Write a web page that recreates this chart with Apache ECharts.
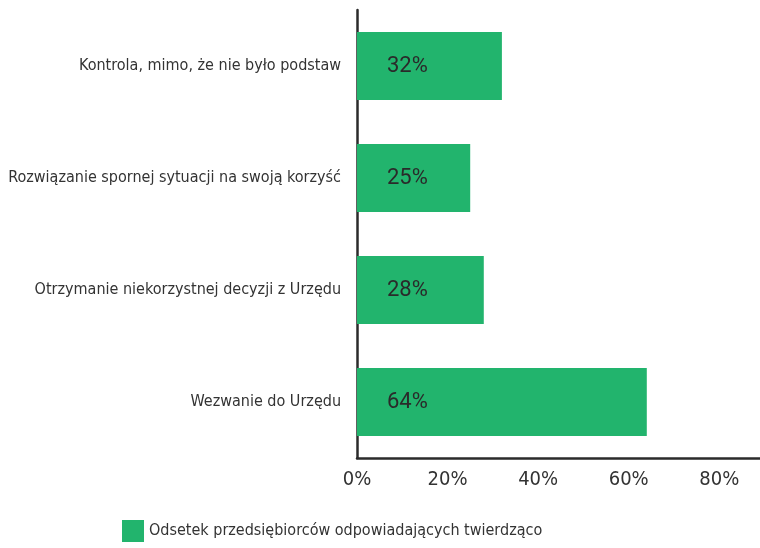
<!DOCTYPE html>
<html>
<head>
<meta charset="utf-8">
<script src="https://cdn.jsdelivr.net/npm/echarts@6/dist/echarts.min.js"></script>
<style>
  html, body { margin: 0; padding: 0; background: #fff; }
  #chart { width: 760px; height: 548px; }
</style>
</head>
<body>
<div id="chart"></div>
<script>
// dane z wykresu (od góry do dołu)
var categories = [
  'Kontrola, mimo, że nie było podstaw',
  'Rozwiązanie spornej sytuacji na swoją korzyść',
  'Otrzymanie niekorzystnej decyzji z Urzędu',
  'Wezwanie do Urzędu'
];
var values = [32, 25, 28, 64];
var seriesName = 'Odsetek przedsiębiorców odpowiadających twierdząco';
var xTicks = [0, 20, 40, 60, 80];

var FONT = '"DejaVu Sans Condensed", sans-serif';
var chart = echarts.init(document.getElementById('chart'));

chart.setOption({
  animation: false,
  grid: {
    left: 357,
    right: 0,
    top: 10,
    bottom: 90,
    containLabel: false,
    outerBoundsMode: 'none'
  },
  legend: {
    bottom: 1,
    left: 117,
    itemWidth: 22,
    itemHeight: 22,
    itemGap: 8,
    icon: 'rect',
    textStyle: { fontFamily: FONT, fontSize: 16, color: '#333' },
    data: [seriesName]
  },
  xAxis: {
    type: 'value',
    min: 0,
    max: 89,
    interval: 20,
    axisLine: { show: true, lineStyle: { color: '#2b2b2b', width: 2.5 } },
    axisTick: { show: false },
    splitLine: { show: false },
    axisLabel: {
      showMaxLabel: false,
      margin: 12,
      fontFamily: FONT,
      fontSize: 20,
      color: '#333',
      formatter: function (v) {
        return xTicks.indexOf(v) >= 0 ? v + '%' : '';
      }
    }
  },
  yAxis: {
    type: 'category',
    inverse: true,
    data: categories,
    axisLine: { show: true, lineStyle: { color: '#2b2b2b', width: 2.5 } },
    axisTick: { show: false },
    axisLabel: {
      margin: 16,
      fontFamily: FONT,
      fontSize: 16,
      color: '#333'
    }
  },
  series: [
    {
      name: seriesName,
      type: 'bar',
      data: values,
      barWidth: 68,
      itemStyle: { color: '#22b46d' },
      label: {
        show: true,
        position: 'insideLeft',
        distance: 30,
        formatter: '{c}%',
        fontFamily: 'Roboto, sans-serif',
        fontSize: 22,
        color: '#2a2a2a'
      }
    }
  ]
});
</script>
</body>
</html>
